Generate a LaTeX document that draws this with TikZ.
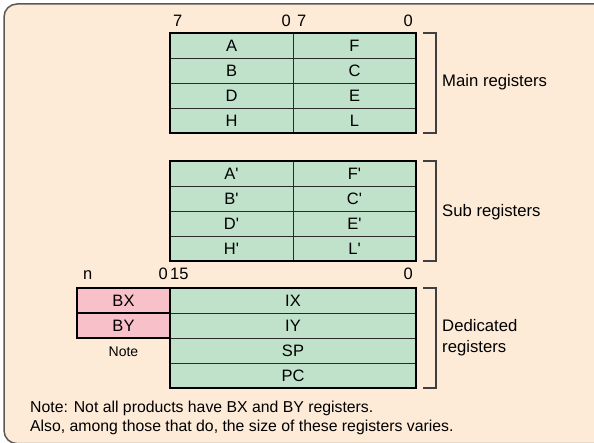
\documentclass[tikz,border=0pt]{standalone}
\usepackage{fontspec}
\setmainfont{Liberation Sans}
\definecolor{panel}{HTML}{FDEBD8}
\definecolor{regfill}{HTML}{C0E2CA}
\definecolor{extfill}{HTML}{F8C0C8}
\definecolor{rule}{HTML}{2A2A2A}
\tikzset{reg/.style = {shape=rectangle, draw=rule, line width=0.9pt, fill=regfill, minimum width=123pt, minimum height=25pt, inner sep=0pt, outer sep=0pt, font=\fontsize{16.5}{20}\selectfont}}
\tikzset{wide/.style = {reg, minimum width=246pt}}
\tikzset{ext/.style = {reg, fill=extfill, draw=black, line width=2pt, minimum width=93pt}}
\tikzset{frame/.style = {draw=black, line width=2pt}}
\tikzset{brk/.style = {draw=black!75, line width=1.2pt}}
\tikzset{bit/.style = {inner sep=0pt, font=\fontsize{16.5}{20}\selectfont}}
\tikzset{lbl/.style = {anchor=west, inner sep=0pt, align=left, font=\fontsize{16.7}{21}\selectfont}}
\tikzset{remark/.style = {anchor=base west, inner sep=0pt, font=\fontsize{15.8}{18}\selectfont}}

\begin{document}
\begin{tikzpicture}[x=1pt, y=-1pt]
		% Panel
		\clip (0,0) rectangle (594,443);
		\fill[white] (0,0) rectangle (594,443);
		\draw[draw=black!65, line width=1.5pt, fill=panel, rounded corners=13pt] (4,4) rectangle (620,443.6);
		% Main registers
		\foreach \l/\r [count=\i from 0] in {A/F, B/C, D/E, H/L} {
			\node[reg] (m\l) at (231.5, 45.5+25*\i) {\l};
			\node[reg] (m\r) at (354.5, 45.5+25*\i) {\r};
		}
		% Sub registers
		\foreach \l/\r [count=\i from 0] in {A/F, B/C, D/E, H/L} {
			\node[reg] (s\l) at (231.5, 173.5+25*\i) {\l\textquotesingle};
			\node[reg] (s\r) at (354.5, 173.5+25*\i) {\r\textquotesingle};
		}
		% Dedicated registers
		\foreach \r [count=\i from 0] in {IX, IY, SP, PC}
			\node[wide] (\r) at (293, 300.5+25*\i) {\r};
		\node[ext] (BX) at (123.5, 300.5) {BX};
		\node[ext] (BY) at (123.5, 325.5) {BY};
		\node[bit, font=\fontsize{14}{16}\selectfont] (note) at (123.5, 352) {Note};
		% Frames
		\draw[frame] (mA.north west) rectangle (mL.south east);
		\draw[frame] (sA.north west) rectangle (sL.south east);
		\draw[frame] (IX.north west) rectangle (PC.south east);
		% Bit numbers
		\node[bit, anchor=base west] (m7a) at (173, 27) {7};
		\node[bit, anchor=base east] (m0a) at (291, 27) {0};
		\node[bit, anchor=base west] (m7b) at (297, 27) {7};
		\node[bit, anchor=base east] (m0b) at (413, 27) {0};
		\node[bit, anchor=base west] (dn)  at (83, 280) {n};
		\node[bit, anchor=base east] (d0a) at (168, 280) {0};
		\node[bit, anchor=base west] (d15) at (170, 280) {15};
		\node[bit, anchor=base east] (d0b) at (413, 280) {0};
		% Brackets
		\foreach \top/\bot in {mF/mL, sF/sL, IX/PC}
			\draw[brk] ([xshift=7pt]\top.north east) -- ([xshift=20pt]\top.north east)
				-- ([xshift=20pt]\bot.south east) -- ([xshift=7pt]\bot.south east);
		\node[lbl] (main) at (442, 82) {Main registers};
		\node[lbl] (sub)  at (442, 212) {Sub registers};
		\node[lbl] (ded)  at (442, 337.5) {Dedicated\\registers};
		% Note text
		\node[remark] (n1) at (30, 412) {Note: Not all products have BX and BY registers.};
		\node[remark] (n2) at (30, 431) {Also, among those that do, the size of these registers varies.};
\end{tikzpicture}
\end{document}
